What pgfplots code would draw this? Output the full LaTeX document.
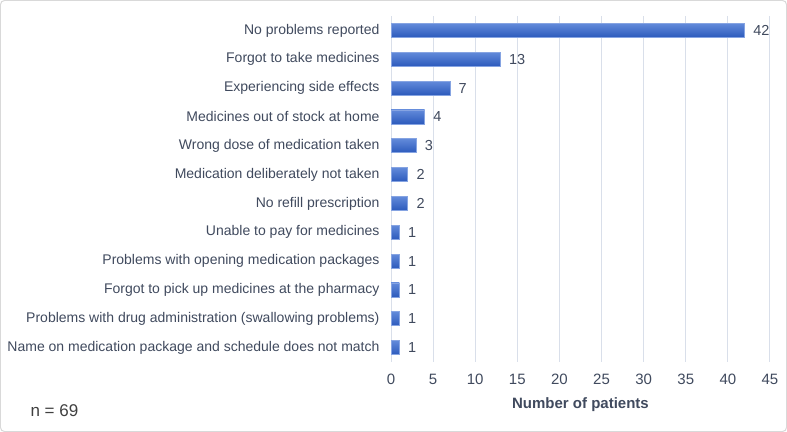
\documentclass[border=0pt]{standalone}
\usepackage{pgfplots}
\pgfplotsset{compat=1.18}
\usepackage{fontspec}
\setmainfont{Liberation Sans}
\definecolor{txt}{HTML}{404A5E}
\definecolor{ntxt}{HTML}{404040}
\definecolor{gridc}{HTML}{D9DFEA}
\definecolor{bartop}{HTML}{628ADA}
\definecolor{barbot}{HTML}{2C5ABC}
\definecolor{baredge}{HTML}{86A4E2}
\pgfplotsset{mybar/.style={bar shift=0pt, draw=baredge, line width=0.7bp, top color=bartop, bottom color=barbot}}
\begin{document}
\begin{tikzpicture}
\draw[rounded corners=4bp, draw=gray!30, fill=white, line width=1bp] (0.5bp,0.5bp) rectangle (786.5bp,431.5bp);
\begin{axis}[
  at={(391bp,70bp)}, anchor=south west,
  scale only axis, width=379bp, height=346bp,
  xbar, bar width=14bp,
  xmin=0, xmax=45, xtick={0,5,...,45},
  ymin=-0.5, ymax=11.5, y dir=reverse,
  ytick={0,...,11},
  yticklabels={No problems reported, Forgot to take medicines, Experiencing side effects, Medicines out of stock at home, Wrong dose of medication taken, Medication deliberately not taken, No refill prescription, {Unable to pay for medicines\ }, Problems with opening medication packages, Forgot to pick up medicines at the pharmacy, Problems with drug administration (swallowing problems), Name on medication package and schedule does not match},
  axis line style={draw=none},
  major tick length=0pt,
  xmajorgrids, grid style={gridc, line width=1bp},
  ymajorgrids=false,
  yticklabel style={font=\fontsize{14bp}{16bp}\selectfont, text=txt, xshift=-8bp},
  xticklabel style={font=\fontsize{15bp}{17bp}\selectfont, text=txt, yshift=-9bp},
  /pgf/number format/assume math mode=true,
  xlabel={\textbf{Number of patients}},
  xlabel style={font=\fontsize{15bp}{17bp}\selectfont, text=txt, yshift=-6bp},
  nodes near coords,
  nodes near coords style={font=\fontsize{14.5bp}{16bp}\selectfont, text=txt, anchor=west, xshift=5bp},
]
\addplot[mybar] coordinates {(42,0)};
\addplot[mybar] coordinates {(13,1)};
\addplot[mybar] coordinates {(7,2)};
\addplot[mybar] coordinates {(4,3)};
\addplot[mybar] coordinates {(3,4)};
\addplot[mybar] coordinates {(2,5)};
\addplot[mybar] coordinates {(2,6)};
\addplot[mybar] coordinates {(1,7)};
\addplot[mybar] coordinates {(1,8)};
\addplot[mybar] coordinates {(1,9)};
\addplot[mybar] coordinates {(1,10)};
\addplot[mybar] coordinates {(1,11)};
\end{axis}
\node[anchor=west, text=ntxt, font=\fontsize{17bp}{19bp}\selectfont] at (27bp,21bp) {n = 69};
\end{tikzpicture}
\end{document}
